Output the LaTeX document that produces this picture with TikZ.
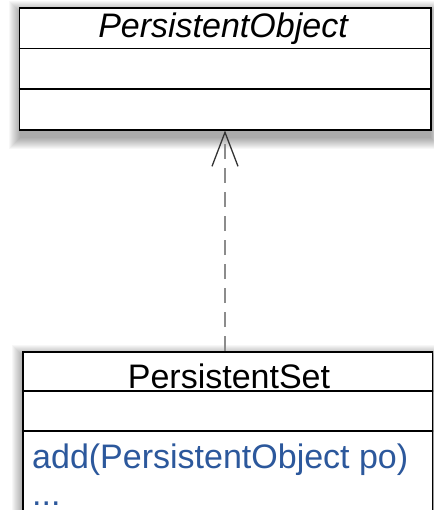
\documentclass[tikz,border=0pt]{standalone}
\usepackage{fontspec}
\setmainfont{Liberation Sans}
\usetikzlibrary{arrows.meta,backgrounds}

\definecolor{opblue}{RGB}{44,88,156}

\tikzset{
  classbox/.style={draw=black, line width=1.6pt, fill=white, rectangle,
    anchor=north west, inner sep=0pt},
  divider/.style={draw=black, line width=1.4pt},
  umltext/.style={font=\fontsize{34}{40}\selectfont, inner sep=0pt, text depth=0pt},
  realizes/.style={draw=black!45, line width=1.3pt, dash pattern=on 15pt off 9pt,
    -{Straight Barb[length=34pt, width=26pt, line width=1.3pt, color=black!80]}},
  softshadow/.style={fill=black, opacity=0.03},
}

% soft shadow under a box: stacked translucent rectangles
\newcommand{\boxshadow}[1]{%
  \foreach \r in {1,...,12}{%
    \fill[softshadow]
      ([xshift=-\r pt+2pt, yshift=-6pt-\r pt]#1.south west)
      rectangle ([xshift=\r pt-2pt, yshift=-6pt+\r pt]#1.north east);
  }%
}

\begin{document}
\begin{tikzpicture}[x=1pt, y=-1pt]
  \begin{pgfonlayer}{background}
    \fill[white] (0,0) rectangle (433,510);
  \end{pgfonlayer}
  \useasboundingbox (0,0) rectangle (433,510);
  \clip (0,0) rectangle (433,510);

  % interface class PersistentObject
  \node[classbox, minimum width=411.5pt, minimum height=121.5pt] (po) at (18.5,7.5) {};
  \draw[divider] ([yshift=-41pt]po.north west) -- ([yshift=-41pt]po.north east);
  \draw[divider] ([yshift=-81.5pt]po.north west) -- ([yshift=-81.5pt]po.north east);
  \node[umltext, anchor=base] (poname) at (223,38) {\itshape PersistentObject};

  % class PersistentSet
  \node[classbox, minimum width=410pt, minimum height=200pt] (ps) at (22,351) {};
  \draw[divider] ([yshift=-40pt]ps.north west) -- ([yshift=-40pt]ps.north east);
  \draw[divider] ([yshift=-80pt]ps.north west) -- ([yshift=-80pt]ps.north east);
  \node[umltext, anchor=base] (psname) at (229,388) {PersistentSet};
  \node[umltext, anchor=base west, text=opblue] (addop) at (32,468) {add(PersistentObject po)};
  \node[umltext, anchor=base west, text=opblue] (more) at (32,505.5) {...};

  % shadows, behind the boxes
  \begin{pgfonlayer}{background}
    \boxshadow{po}
    \boxshadow{ps}
  \end{pgfonlayer}

  % realization
  \coordinate (tail) at (225,351);
  \coordinate (head) at (225,130.5);
  \draw[realizes] (tail) -- (head);
\end{tikzpicture}
\end{document}
